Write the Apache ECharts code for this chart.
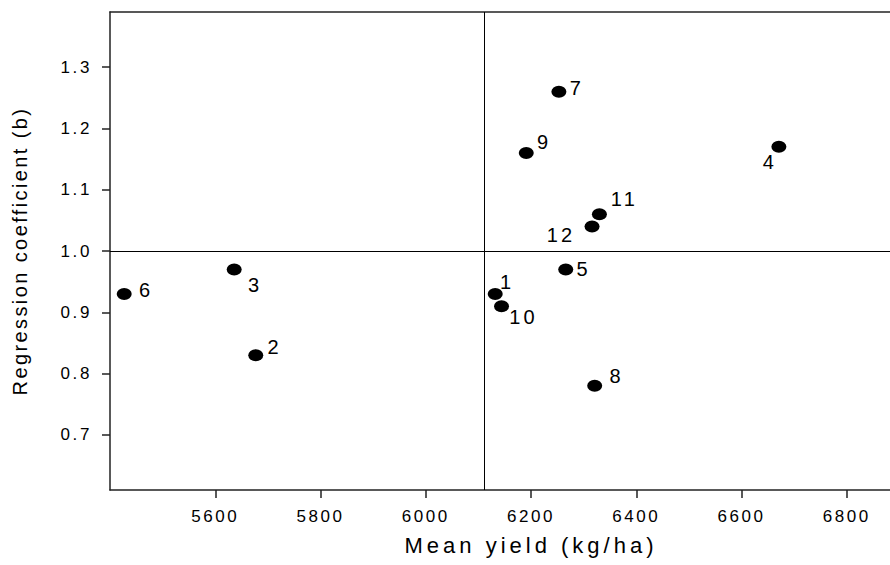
<!DOCTYPE html>
<html>
<head>
<meta charset="utf-8">
<script src="https://cdn.jsdelivr.net/npm/echarts@6/dist/echarts.min.js"></script>
<style>
  html, body { margin: 0; padding: 0; background: #fff; overflow: hidden; width: 890px; height: 565px; }
  /* the frame runs on past the right edge of the page */
  #chart { width: 952px; height: 565px; }
</style>
</head>
<body>
<div id="chart"></div>
<script>
// Entry numbers, mean yield (kg/ha) and regression coefficient (b)
var entries   = ['1', '2', '3', '4', '5', '6', '7', '8', '9', '10', '11', '12'];
var meanYield = [6132, 5677, 5636, 6671, 6266, 5427, 6253, 6321, 6191, 6144, 6330, 6316];
var coefB     = [0.93, 0.83, 0.97, 1.17, 0.97, 0.93, 1.26, 0.78, 1.16, 0.91, 1.06, 1.04];

// Reference lines: grand mean yield and b = 1
var grandMeanYield = 6112;
var unitSlope = 1.0;

// Axis ticks
var xTicks = [5600, 5800, 6000, 6200, 6400, 6600, 6800];
var yTicks = [0.7, 0.8, 0.9, 1.0, 1.1, 1.2, 1.3];

// Where each entry number sits relative to its point (px)
var labelOffsets = [
  [12, -12], [19, -8], [21, 16], [-9, 15], [18, 0], [22, -4],
  [18, -4], [22, -10], [18, -11], [22, 11], [25, -15], [-31, 9]
];

var FONT = '"Liberation Sans", Arial, sans-serif';
var INK = '#000';
var AXIS = '#222';

var points = entries.map(function (name, i) {
  return {
    name: name,
    value: [meanYield[i], coefB[i]],
    label: { offset: labelOffsets[i] }
  };
});

var chart = echarts.init(document.getElementById('chart'), null, { renderer: 'svg' });

chart.setOption({
  animation: false,
  backgroundColor: '#fff',
  grid: { left: 110, right: 0, top: 12, bottom: 75 },
  xAxis: [{
    type: 'value',
    min: 5400,
    max: 7000,
    interval: 200,
    position: 'bottom',
    name: 'Mean yield (kg/ha)',
    nameLocation: 'middle',
    nameGap: 44,
    nameTextStyle: { fontFamily: FONT, fontSize: 22, color: INK },
    splitLine: { show: false },
    axisLine: { show: true, lineStyle: { color: AXIS, width: 1.5 } },
    axisTick: { show: true, length: 8, inside: false, customValues: xTicks, lineStyle: { color: AXIS, width: 1.5 } },
    axisLabel: {
      customValues: xTicks, margin: 18, fontFamily: FONT, fontSize: 17, color: INK,
      formatter: function (v) { return String(v); }
    }
  }, {
    type: 'value',
    min: 5400,
    max: 7000,
    position: 'top',
    splitLine: { show: false },
    axisLine: { show: true, lineStyle: { color: AXIS, width: 1.5 } },
    axisTick: { show: false },
    axisLabel: { show: false }
  }],
  yAxis: {
    type: 'value',
    min: 0.61,
    max: 1.39,
    name: 'Regression coefficient (b)',
    nameLocation: 'middle',
    nameGap: 80,
    nameTextStyle: { fontFamily: FONT, fontSize: 20, color: INK },
    splitLine: { show: false },
    axisLine: { show: true, lineStyle: { color: AXIS, width: 1.5 } },
    axisTick: { show: true, length: 8, inside: false, customValues: yTicks, lineStyle: { color: AXIS, width: 1.5 } },
    axisLabel: {
      customValues: yTicks,
      margin: 18,
      fontFamily: FONT, fontSize: 17, color: INK,
      formatter: function (v) { return v.toFixed(1); }
    }
  },
  series: [{
    type: 'scatter',
    xAxisIndex: 0,
    symbol: 'path://M0,6a7.5,6 0 1,0 15,0a7.5,6 0 1,0 -15,0z',
    symbolSize: [15, 12],
    itemStyle: { color: '#000', opacity: 1 },
    emphasis: { disabled: true },
    label: {
      show: true,
      position: 'inside',
      align: 'center',
      verticalAlign: 'middle',
      formatter: '{b}',
      fontFamily: FONT,
      fontSize: 20,
      color: INK
    },
    markLine: {
      silent: true,
      symbol: ['none', 'none'],
      label: { show: false },
      lineStyle: { color: '#000', width: 1, type: 'solid' },
      data: [{ xAxis: grandMeanYield }, { yAxis: unitSlope }]
    },
    data: points
  }]
});

// SigmaPlot-style tracking: widen letter spacing of each text run by its size
function trackText() {
  document.querySelectorAll('#chart svg text').forEach(function (t) {
    var fs = parseFloat(getComputedStyle(t).fontSize) || 17;
    var sp;
    if (fs >= 21) sp = 4;                                        // x axis title
    else if (fs >= 19.5) sp = t.textContent.length > 3 ? 2.4 : 3.2; // y title / point numbers
    else sp = 2.6;                                               // tick labels
    t.style.letterSpacing = sp + 'px';
  });
}
chart.on('finished', trackText);
trackText();
setTimeout(trackText, 30);
setTimeout(trackText, 200);
</script>
</body>
</html>
